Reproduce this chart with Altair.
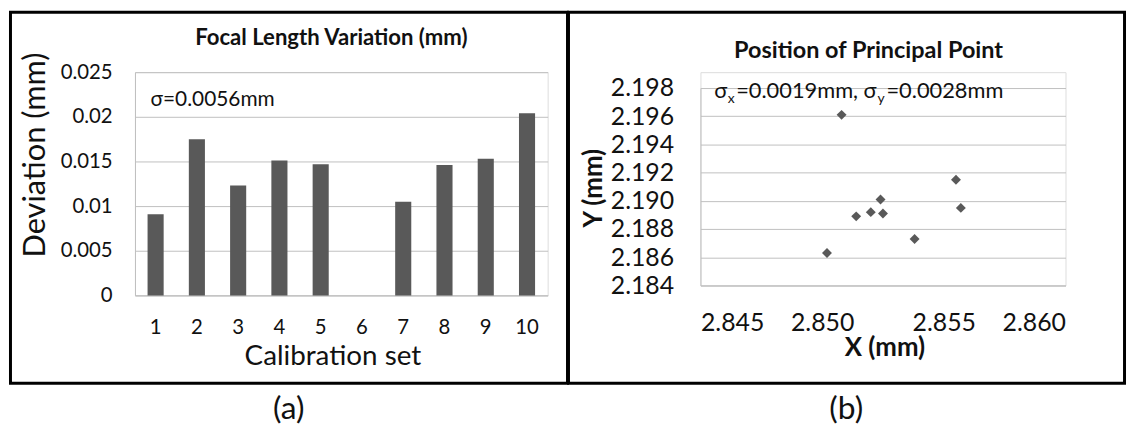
import altair as alt
import pandas as pd

# ---------------- data ----------------
sets = [1, 2, 3, 4, 5, 6, 7, 8, 9, 10]
deviation = [0.0091, 0.0175, 0.0123, 0.0151, 0.0147, None, 0.0105, 0.0146, 0.0153, 0.0204]
dev_ticks = [0, 0.005, 0.01, 0.015, 0.02, 0.025]

pp_x = [2.8508, 2.8555, 2.8524, 2.8514, 2.8520, 2.8525, 2.8557, 2.8538, 2.8502]
pp_y = [2.1961, 2.1915, 2.1901, 2.1889, 2.1892, 2.1891, 2.1895, 2.1873, 2.1863]
x_ticks_b = [2.845, 2.850, 2.855, 2.860]
y_ticks_b = [2.184, 2.186, 2.188, 2.190, 2.192, 2.194, 2.196, 2.198]

title_a = "Focal Length Variation (mm)"
title_b = "Position of Principal Point"
sigma_a = "σ=0.0056mm"
sigma_b_parts = ["σ", "x", "=0.0019mm, σ", "y", "=0.0028mm"]
panel_labels = ["(a)", "(b)"]

# ---------------- style ----------------
FONT = "Lato"
TEXT = "#111111"
GRID = "#bfbfbf"
MARK = "#595959"


def one(**kw):
    return alt.Data(values=[kw])


def text_layer(txt, x, y, size, weight="normal", align="left", baseline="alphabetic"):
    return alt.Chart(one(t=txt)).mark_text(
        font=FONT, fontSize=size, fontWeight=weight, color=TEXT,
        align=align, baseline=baseline,
    ).encode(text="t:N", x=alt.value(x), y=alt.value(y))


def border(x1, x2, y1, y2):
    return alt.Chart(one(k=1)).mark_rect(
        fill="white", fillOpacity=0, stroke="black", strokeWidth=3
    ).encode(x=alt.value(x1), x2=alt.value(x2), y=alt.value(y1), y2=alt.value(y2))


# ---------------- panel (a) ----------------
WA, HA = 416, 225
bars_df = pd.DataFrame({"set": sets, "deviation": deviation})

bars = alt.Chart(bars_df).mark_bar(color=MARK).encode(
    x=alt.X(
        "set:O",
        scale=alt.Scale(domain=sets, paddingInner=0.61, paddingOuter=0.305),
        axis=alt.Axis(
            title="Calibration set", labelAngle=0, labelFont=FONT, labelFontSize=20.5,
            labelColor=TEXT, labelPadding=22, ticks=False, tickSize=0,
            domainColor=GRID, domainWidth=1, grid=False,
            titleFont=FONT, titleFontSize=28, titleFontWeight="normal", titleColor=TEXT,
            titleX=199, titleY=62, titleAlign="center", titleBaseline="middle",
        ),
    ),
    y=alt.Y(
        "deviation:Q",
        scale=alt.Scale(domain=[0, 0.025], nice=False),
        axis=alt.Axis(
            values=dev_ticks, format=".3~f", labelFont=FONT, labelFontSize=20.5,
            labelColor=TEXT, labelPadding=23, ticks=False, tickSize=0,
            domainColor=GRID, domainWidth=1, grid=True, gridColor=GRID, gridWidth=1,
            title="Deviation (mm)", titleFont=FONT, titleFontSize=31,
            titleFontWeight="normal", titleColor=TEXT, titleAngle=270,
            titleX=-100, titleY=83, titleAlign="center", titleBaseline="middle",
        ),
    ),
)

panel_a = alt.layer(
    border(-125.5, 436, -60.5, 313.5),
    bars,
    text_layer(title_a, 198, -27, 22.3, weight="bold", align="center"),
    text_layer(sigma_a, 15.7, 34, 21),
    text_layer(panel_labels[0], 155, 340, 32, align="center", baseline="middle"),
).properties(width=WA, height=HA)

# ---------------- panel (b) ----------------
# plot origin shares the top of panel (a); the data range starts 16 px lower
WB, HB = 368, 215
pp_df = pd.DataFrame({"x": pp_x, "y": pp_y})

points = alt.Chart(pp_df).mark_point(
    shape="diamond", filled=True, size=100, color=MARK, opacity=1
).encode(
    x=alt.X(
        "x:Q",
        scale=alt.Scale(domain=[2.845, 2.860], nice=False, zero=False),
        axis=alt.Axis(
            values=x_ticks_b, format=".3f", labelFont=FONT, labelFontSize=25,
            labelColor=TEXT, labelPadding=25, ticks=False, tickSize=0,
            domainColor=GRID, domainWidth=1, grid=False,
            title="X (mm)", titleFont=FONT, titleFontSize=26, titleFontWeight="bold",
            titleColor=TEXT, titleX=185.5, titleY=63, titleAlign="center",
            titleBaseline="middle",
        ),
    ),
    y=alt.Y(
        "y:Q",
        scale=alt.Scale(domain=[2.184, 2.198], range=[HB, 16], nice=False, zero=False),
        axis=alt.Axis(
            values=y_ticks_b, format=".3f", labelFont=FONT, labelFontSize=25,
            labelColor=TEXT, labelPadding=27, ticks=False, tickSize=0,
            domainColor=GRID, domainWidth=1, grid=True, gridColor=GRID, gridWidth=1,
            title="Y (mm)", titleFont=FONT, titleFontSize=26, titleFontWeight="bold",
            titleColor=TEXT, titleAngle=270, titleX=-108, titleY=116.5,
            titleAlign="center", titleBaseline="middle",
        ),
    ),
)

panel_b = alt.layer(
    border(-133, 427.5, -60.5, 313.5),
    points,
    text_layer(title_b, 169.5, -14, 23.6, weight="bold", align="center"),
    text_layer(sigma_b_parts[0], 14, 26, 22),
    text_layer(sigma_b_parts[1], 27.5, 31.5, 14),
    text_layer(sigma_b_parts[2], 36, 26, 22),
    text_layer(sigma_b_parts[3], 178.5, 31.5, 14),
    text_layer(sigma_b_parts[4], 187.5, 26, 22),
    text_layer(panel_labels[1], 147, 340, 32, align="center", baseline="middle"),
).properties(width=WB, height=HB)

chart = alt.hconcat(panel_a, panel_b, spacing=-3).properties(
    padding=0, background="white"
).configure_view(stroke=None).configure(font=FONT)

chart.save("out.html", embed_options={"renderer": "svg", "actions": False})
